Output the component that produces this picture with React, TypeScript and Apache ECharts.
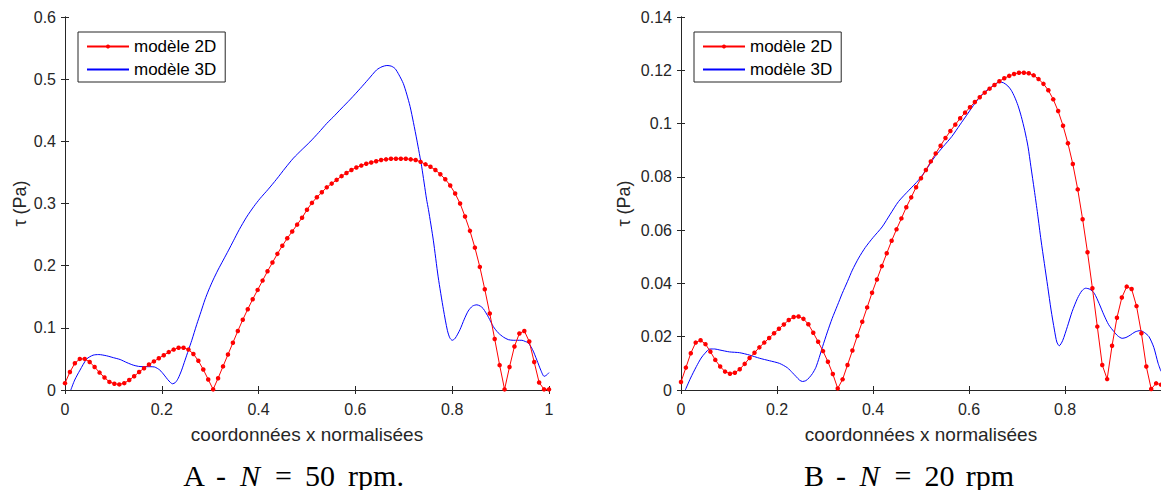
import React, { useEffect, useRef } from "react";
import * as echarts from "echarts";

// x positions of the 2D-model samples (99 evenly spaced points on [0, 1])
const X2D = [
  0, 0.0102, 0.0204, 0.0306, 0.0408, 0.051, 0.0612, 0.0714, 0.0816, 0.0918,
  0.102, 0.1122, 0.1224, 0.1327, 0.1429, 0.1531, 0.1633, 0.1735, 0.1837, 0.1939,
  0.2041, 0.2143, 0.2245, 0.2347, 0.2449, 0.2551, 0.2653, 0.2755, 0.2857, 0.2959,
  0.3061, 0.3163, 0.3265, 0.3367, 0.3469, 0.3571, 0.3673, 0.3776, 0.3878, 0.398,
  0.4082, 0.4184, 0.4286, 0.4388, 0.449, 0.4592, 0.4694, 0.4796, 0.4898, 0.5,
  0.5102, 0.5204, 0.5306, 0.5408, 0.551, 0.5612, 0.5714, 0.5816, 0.5918, 0.602,
  0.6122, 0.6224, 0.6327, 0.6429, 0.6531, 0.6633, 0.6735, 0.6837, 0.6939, 0.7041,
  0.7143, 0.7245, 0.7347, 0.7449, 0.7551, 0.7653, 0.7755, 0.7857, 0.7959, 0.8061,
  0.8163, 0.8265, 0.8367, 0.8469, 0.8571, 0.8673, 0.8776, 0.8878, 0.898, 0.9082,
  0.9184, 0.9286, 0.9388, 0.949, 0.9592, 0.9694, 0.9796, 0.9898, 1,
];

// Chart A (N = 50 rpm) — modèle 2D
const RED_A = [
  0.011, 0.029, 0.043, 0.05, 0.05, 0.045, 0.037, 0.028, 0.02, 0.013,
  0.01, 0.009, 0.011, 0.016, 0.022, 0.029, 0.035, 0.041, 0.046, 0.051,
  0.056, 0.061, 0.065, 0.068, 0.068, 0.065, 0.058, 0.047, 0.033, 0.017,
  0.001, 0.019, 0.038, 0.057, 0.076, 0.095, 0.113, 0.13, 0.146, 0.161,
  0.176, 0.191, 0.205, 0.219, 0.232, 0.244, 0.255, 0.266, 0.277, 0.29,
  0.301, 0.31, 0.318, 0.326, 0.332, 0.338, 0.344, 0.349, 0.354, 0.358,
  0.361, 0.364, 0.366, 0.368, 0.37, 0.371, 0.372, 0.372, 0.372, 0.372,
  0.371, 0.37, 0.367, 0.363, 0.359, 0.354, 0.347, 0.339, 0.329, 0.316,
  0.3, 0.279, 0.256, 0.229, 0.198, 0.162, 0.123, 0.082, 0.04, 0.001,
  0.037, 0.07, 0.091, 0.095, 0.078, 0.045, 0.012, 0.001, 0.001,
];

// Chart A — modèle 3D
const BLUE_A_X = [
  0.012, 0.02, 0.031, 0.045, 0.058, 0.07, 0.086, 0.1, 0.114, 0.128,
  0.141, 0.152, 0.162, 0.175, 0.185, 0.196, 0.205, 0.212, 0.218, 0.222,
  0.228, 0.234, 0.241, 0.248, 0.255, 0.262, 0.272, 0.281, 0.289, 0.297,
  0.306, 0.316, 0.327, 0.338, 0.348, 0.36, 0.375, 0.39, 0.403, 0.42,
  0.437, 0.455, 0.472, 0.49, 0.506, 0.524, 0.541, 0.554, 0.57, 0.59,
  0.61, 0.627, 0.644, 0.655, 0.665, 0.674, 0.682, 0.69, 0.699, 0.706,
  0.713, 0.72, 0.727, 0.737, 0.747, 0.751, 0.761, 0.771, 0.782, 0.79,
  0.795, 0.8, 0.806, 0.816, 0.825, 0.833, 0.842, 0.851, 0.858, 0.864,
  0.875, 0.885, 0.895, 0.906, 0.916, 0.926, 0.935, 0.944, 0.951, 0.957,
  0.966, 0.975, 0.983, 0.99, 0.995, 1.0,
];
const BLUE_A_Y = [
  0, 0.016, 0.032, 0.05, 0.056, 0.057, 0.055, 0.052, 0.049, 0.044,
  0.04, 0.038, 0.0375, 0.0375, 0.037, 0.032, 0.024, 0.017, 0.012, 0.01,
  0.012, 0.019, 0.032, 0.048, 0.064, 0.08, 0.105, 0.126, 0.145, 0.161,
  0.177, 0.193, 0.209, 0.225, 0.24, 0.258, 0.278, 0.295, 0.308, 0.323,
  0.339, 0.357, 0.373, 0.387, 0.399, 0.414, 0.429, 0.439, 0.452, 0.468,
  0.485, 0.5, 0.515, 0.52, 0.522, 0.521, 0.517, 0.507, 0.493, 0.476,
  0.456, 0.43, 0.402, 0.359, 0.307, 0.29, 0.241, 0.182, 0.129, 0.096,
  0.084, 0.08, 0.083, 0.097, 0.114, 0.127, 0.135, 0.137, 0.135, 0.131,
  0.117, 0.102, 0.092, 0.085, 0.081, 0.08, 0.08, 0.08, 0.078, 0.076,
  0.065, 0.048, 0.032, 0.022, 0.024, 0.028,
];

// Chart B (N = 20 rpm) — modèle 2D
const RED_B = [
  0.003, 0.0084, 0.0138, 0.0178, 0.0187, 0.0172, 0.0144, 0.0113, 0.0088, 0.0069,
  0.0061, 0.0065, 0.0078, 0.0098, 0.012, 0.014, 0.016, 0.0178, 0.0195, 0.0213,
  0.023, 0.0246, 0.0263, 0.0274, 0.0276, 0.0267, 0.0247, 0.0215, 0.0181, 0.0146,
  0.0106, 0.006, 0.0006, 0.004, 0.0094, 0.0148, 0.0203, 0.0256, 0.031, 0.0365,
  0.0415, 0.0465, 0.0513, 0.056, 0.0603, 0.0644, 0.0686, 0.0723, 0.0761, 0.0795,
  0.0826, 0.0858, 0.0888, 0.0917, 0.0946, 0.0972, 0.0996, 0.102, 0.1041, 0.1061,
  0.1081, 0.1099, 0.1116, 0.1131, 0.1145, 0.1159, 0.117, 0.1179, 0.1186, 0.1191,
  0.1191, 0.1189, 0.1181, 0.1167, 0.1149, 0.1125, 0.1091, 0.1047, 0.0992, 0.0926,
  0.0848, 0.0753, 0.0641, 0.0517, 0.0382, 0.0238, 0.0094, 0.0041, 0.0166, 0.0271,
  0.0347, 0.0388, 0.0379, 0.0315, 0.0213, 0.0088, 0.0004, 0.0025, 0.002,
];

// Chart B — modèle 3D
const BLUE_B_X = [
  0.009, 0.02, 0.032, 0.042, 0.05, 0.06, 0.07, 0.081, 0.101, 0.122,
  0.143, 0.164, 0.184, 0.205, 0.222, 0.232, 0.24, 0.247, 0.253, 0.26,
  0.267, 0.274, 0.281, 0.288, 0.295, 0.305, 0.315, 0.326, 0.336, 0.347,
  0.357, 0.37, 0.384, 0.4, 0.419, 0.436, 0.453, 0.475, 0.495, 0.512,
  0.529, 0.546, 0.564, 0.581, 0.598, 0.612, 0.626, 0.637, 0.647, 0.656,
  0.664, 0.672, 0.681, 0.688, 0.695, 0.702, 0.709, 0.716, 0.723, 0.729,
  0.736, 0.743, 0.75, 0.757, 0.764, 0.771, 0.778, 0.783, 0.788, 0.795,
  0.805, 0.815, 0.826, 0.835, 0.843, 0.852, 0.861, 0.871, 0.881, 0.891,
  0.902, 0.91, 0.919, 0.927, 0.936, 0.946, 0.957, 0.966, 0.975, 0.985,
  0.994, 1.0,
];
const BLUE_B_Y = [
  0, 0.0045, 0.0088, 0.012, 0.0138, 0.0154, 0.0154, 0.015, 0.0143, 0.014,
  0.0131, 0.0119, 0.011, 0.01, 0.0083, 0.0065, 0.005, 0.0037, 0.0032, 0.0035,
  0.0046, 0.0062, 0.0085, 0.0122, 0.0163, 0.0218, 0.0269, 0.0318, 0.0363, 0.0408,
  0.045, 0.0495, 0.0535, 0.0572, 0.0612, 0.066, 0.0707, 0.075, 0.0788, 0.083,
  0.0876, 0.0913, 0.0951, 0.0995, 0.1039, 0.1075, 0.1107, 0.1125, 0.1138, 0.115,
  0.1156, 0.1153, 0.1141, 0.1125, 0.11, 0.1068, 0.1026, 0.0975, 0.0913, 0.0838,
  0.0751, 0.066, 0.0563, 0.0475, 0.0388, 0.03, 0.0225, 0.018, 0.0166, 0.0185,
  0.0238, 0.0295, 0.0344, 0.0372, 0.0382, 0.0378, 0.0363, 0.0325, 0.0282, 0.0245,
  0.0219, 0.0203, 0.0194, 0.0197, 0.0206, 0.0218, 0.0223, 0.0215, 0.02, 0.016,
  0.01, 0.007,
];

const X_TICK_STEP = 0.2;
const Y_MAX_A = 0.6;
const Y_STEP_A = 0.1;
const Y_MAX_B = 0.14;
const Y_STEP_B = 0.02;
const NAME_2D = "modèle 2D";
const NAME_3D = "modèle 3D";
const X_TITLE = "coordonnées x normalisées";
const Y_TITLE = "τ (Pa)";
const CAPTION_A = ["A", "-", "N", "=", "50", "rpm."];
const CAPTION_B = ["B", "-", "N", "=", "20", "rpm"];

const AX = "#262626";
const SANS = "'Liberation Sans', Arial, sans-serif";
const SERIF = "'Liberation Serif', 'DejaVu Serif', serif";

function zip(xs: number[], ys: number[]) {
  return xs.map((x, i) => [x, ys[i]]);
}

export default function App() {
  const ref = useRef<HTMLDivElement>(null);
  useEffect(() => {
    if (!ref.current) return;
    const chart = echarts.init(ref.current, null, { renderer: "svg" });
    const grids = [
      { left: 65, top: 17, width: 484, height: 373 },
      { left: 681, top: 17, width: 483, height: 373 },
    ];
    const xAxes: any[] = [];
    const yAxes: any[] = [];
    const yDefs = [
      { max: Y_MAX_A, step: Y_STEP_A },
      { max: Y_MAX_B, step: Y_STEP_B },
    ];
    grids.forEach((_, gi) => {
      const line = { show: true, lineStyle: { color: AX, width: 1 } };
      const tick = { show: true, inside: true, length: 4, lineStyle: { color: AX } };
      xAxes.push({
        gridIndex: gi,
        type: "value",
        position: "bottom",
        min: 0,
        max: 1,
        interval: X_TICK_STEP,
        axisLine: line,
        axisTick: tick,
        splitLine: { show: false },
        axisLabel: {
          fontSize: 16,
          color: AX,
          fontFamily: SANS,
          margin: 11,
          showMaxLabel: gi === 0,
        },
        name: X_TITLE,
        nameLocation: "middle",
        nameGap: 35,
        nameTextStyle: { fontSize: 19, color: AX, fontFamily: SANS },
      });
      xAxes.push({
        gridIndex: gi,
        type: "value",
        position: "top",
        min: 0,
        max: 1,
        interval: X_TICK_STEP,
        axisLine: line,
        axisTick: tick,
        axisLabel: { show: false },
        splitLine: { show: false },
      });
      yAxes.push({
        gridIndex: gi,
        type: "value",
        position: "left",
        min: 0,
        max: yDefs[gi].max,
        interval: yDefs[gi].step,
        axisLine: line,
        axisTick: tick,
        splitLine: { show: false },
        axisLabel: { fontSize: 16, color: AX, fontFamily: SANS, margin: 9 },
        name: Y_TITLE,
        nameLocation: "middle",
        nameRotate: 90,
        nameGap: gi === 0 ? 36 : 48,
        nameTextStyle: { fontSize: 18, color: AX, fontFamily: SANS },
      });
      yAxes.push({
        gridIndex: gi,
        type: "value",
        position: "right",
        min: 0,
        max: yDefs[gi].max,
        interval: yDefs[gi].step,
        axisLine: line,
        axisTick: tick,
        axisLabel: { show: false },
        splitLine: { show: false },
      });
    });

    const redSeries = (data: number[], gi: number) => ({
      type: "line",
      name: NAME_2D,
      xAxisIndex: gi * 2,
      yAxisIndex: gi * 2,
      data: zip(X2D, data),
      symbol: "circle",
      symbolSize: 4.5,
      showSymbol: true,
      lineStyle: { color: "#ff0000", width: 1 },
      itemStyle: { color: "#ff0000" },
      z: 3,
    });
    const blueSeries = (xs: number[], ys: number[], gi: number) => ({
      type: "line",
      name: NAME_3D,
      xAxisIndex: gi * 2,
      yAxisIndex: gi * 2,
      data: zip(xs, ys),
      symbol: "none",
      smooth: 0.25,
      lineStyle: { color: "#0000ff", width: 1 },
      itemStyle: { color: "#0000ff" },
      z: 2,
    });

    const legend = (left: number) => ({
      left,
      top: 32,
      orient: "vertical",
      itemWidth: 42,
      itemHeight: 5,
      itemGap: 6,
      padding: [6, 9, 4, 8],
      borderColor: AX,
      borderWidth: 1,
      borderRadius: 0,
      backgroundColor: "#fff",
      selectedMode: false,
      textStyle: { fontSize: 17, color: "#000", fontFamily: SANS },
      data: [
        { name: NAME_2D },
        { name: NAME_3D, itemStyle: { opacity: 0 } },
      ],
    });

    // caption pieces laid out like a LaTeX caption (x = centre of each piece)
    const captionPieces = (parts: string[], centres: number[]) =>
      parts.map((t, i) => ({
        type: "text",
        x: centres[i],
        y: 475,
        style: {
          text: t,
          align: "center",
          verticalAlign: "middle",
          fontSize: 30,
          fontFamily: SERIF,
          fontStyle: i === 2 ? "italic" : "normal",
          fill: "#000",
        },
      }));

    chart.setOption({
      animation: false,
      backgroundColor: "#fff",
      grid: grids,
      xAxis: xAxes,
      yAxis: yAxes,
      legend: [legend(78), legend(694)],
      series: [
        redSeries(RED_A, 0),
        blueSeries(BLUE_A_X, BLUE_A_Y, 0),
        redSeries(RED_B, 1),
        blueSeries(BLUE_B_X, BLUE_B_Y, 1),
      ],
      graphic: [
        ...captionPieces(CAPTION_A, [194, 221, 250, 283.5, 320, 376]),
        ...captionPieces(CAPTION_B, [814, 841, 869.5, 903, 939.5, 990]),
      ],
    });
    return () => chart.dispose();
  }, []);
  return (
    <div
      ref={ref}
      style={{ position: "absolute", left: 0, top: 0, width: 1161, height: 490 }}
    />
  );
}
